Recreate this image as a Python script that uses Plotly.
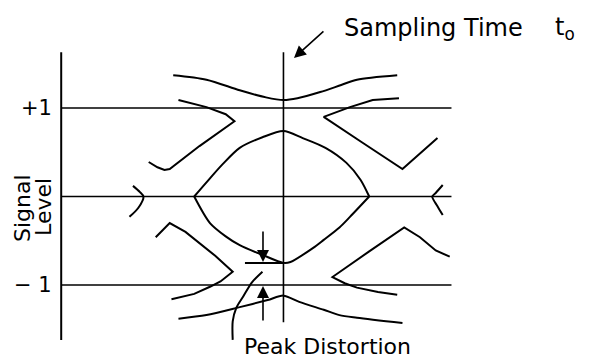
import plotly.graph_objects as go

# time in bit periods (sampling time t0 = 0), level in signal units
# outer upper trace, above +1
top_t = [-0.63, -0.44, -0.25, -0.10, 0.0, 0.08, 0.21, 0.33, 0.42, 0.65]
top_v = [1.37, 1.32, 1.20, 1.12, 1.09, 1.11, 1.18, 1.26, 1.32, 1.37]

# "<" shaped traces near +1
hi_left_t = [-0.60, -0.44, -0.33, -0.28, -0.48, -0.65, -0.68, -0.72, -0.77]
hi_left_v = [1.09, 1.01, 0.93, 0.85, 0.57, 0.31, 0.30, 0.33, 0.39]
hi_right_t = [0.66, 0.51, 0.38, 0.23, 0.45, 0.68, 0.88]
hi_right_v = [1.11, 1.09, 1.01, 0.90, 0.61, 0.31, 0.66]

# eye opening
eye_top_t = [-0.51, -0.44, -0.35, -0.25, -0.12, 0.0, 0.11, 0.24, 0.36, 0.44, 0.49]
eye_top_v = [0.0, 0.16, 0.36, 0.55, 0.67, 0.74, 0.66, 0.55, 0.38, 0.19, 0.0]
eye_bot_t = [-0.51, -0.42, -0.33, -0.25, -0.12, 0.0, 0.04, 0.17, 0.23, 0.32, 0.38, 0.49]
eye_bot_v = [0.0, -0.30, -0.45, -0.55, -0.66, -0.75, -0.74, -0.58, -0.49, -0.35, -0.23, 0.0]

# traces near -1
lo_left_t = [-0.73, -0.65, -0.56, -0.48, -0.39, -0.29, -0.36, -0.42, -0.51, -0.64]
lo_left_v = [-0.46, -0.30, -0.40, -0.53, -0.67, -0.85, -0.96, -1.02, -1.10, -1.16]
lo_right_t = [0.95, 0.87, 0.78, 0.69, 0.49, 0.28, 0.35, 0.42, 0.54, 0.65]
lo_right_v = [-0.68, -0.61, -0.46, -0.35, -0.62, -0.91, -0.98, -1.03, -1.08, -1.11]

# outer lower trace, below -1
bot_t = [-0.60, -0.44, -0.25, -0.09, 0.0, 0.09, 0.23, 0.32, 0.42, 0.68]
bot_v = [-1.38, -1.34, -1.25, -1.17, -1.12, -1.19, -1.28, -1.34, -1.37, -1.43]

# small crossings at the zero line
arc_left_t = [-0.86, -0.82, -0.80, -0.83, -0.88]
arc_left_v = [0.12, 0.05, 0.0, -0.13, -0.23]
arc_right_t = [0.91, 0.87, 0.85, 0.88, 0.91]
arc_right_v = [0.13, 0.04, 0.0, -0.11, -0.21]

# leader from the "Peak Distortion" label
lead_t = [-0.29, -0.29, -0.27, -0.23, -0.18, -0.12]
lead_v = [-1.62, -1.41, -1.26, -1.13, -0.97, -0.85]

levels = [1, 0, -1]
level_labels = ["+1", "", "\u2212 1"]
t_start, t_end = -1.27, 0.96
axis_lo, axis_hi = -1.62, 1.63
sample_lo = -1.42
worst_open = -0.75

fig = go.Figure()

for t, v, shape in [
    (top_t, top_v, "spline"),
    (hi_left_t, hi_left_v, "linear"),
    (hi_right_t, hi_right_v, "linear"),
    (eye_top_t, eye_top_v, "spline"),
    (eye_bot_t, eye_bot_v, "spline"),
    (lo_left_t, lo_left_v, "linear"),
    (lo_right_t, lo_right_v, "linear"),
    (bot_t, bot_v, "spline"),
    (arc_left_t, arc_left_v, "spline"),
    (arc_right_t, arc_right_v, "spline"),
    (lead_t, lead_v, "spline"),
]:
    fig.add_trace(go.Scatter(x=t, y=v, mode="lines",
                             line=dict(color="black", width=2, shape=shape, smoothing=0.8),
                             hoverinfo="skip"))

# reference lines
for lv in levels:
    fig.add_trace(go.Scatter(x=[t_start, t_end], y=[lv, lv], mode="lines",
                             line=dict(color="black", width=1.6), hoverinfo="skip"))
fig.add_trace(go.Scatter(x=[t_start, t_start], y=[axis_lo, axis_hi], mode="lines",
                         line=dict(color="black", width=2), hoverinfo="skip"))
fig.add_trace(go.Scatter(x=[0, 0], y=[sample_lo, axis_hi], mode="lines",
                         line=dict(color="black", width=1.6), hoverinfo="skip"))
fig.add_trace(go.Scatter(x=[-0.22, 0], y=[worst_open, worst_open], mode="lines",
                         line=dict(color="black", width=2), hoverinfo="skip"))

font = dict(family="DejaVu Sans", color="black")

for lv, lab in zip(levels, level_labels):
    if lab:
        fig.add_annotation(x=-1.314, y=lv, text=lab, showarrow=False, xanchor="right",
                           font=dict(font, size=21))

fig.add_annotation(x=-1.494, y=-0.13, text="Signal", textangle=-90, showarrow=False,
                   font=dict(font, size=22))
fig.add_annotation(x=-1.375, y=-0.12, text="Level", textangle=-90, showarrow=False,
                   font=dict(font, size=22))

fig.add_annotation(x=0.334, y=1.904, text="Sampling Time", showarrow=False, xanchor="left",
                   font=dict(font, size=24))
fig.add_annotation(x=1.54, y=1.904, text="t<sub>o</sub>", showarrow=False, xanchor="left",
                   font=dict(font, size=24))
fig.add_annotation(x=-0.237, y=-1.70, text="Peak Distortion", showarrow=False, xanchor="left",
                   font=dict(font, size=22))

# arrows
arrow = dict(showarrow=True, arrowhead=2, arrowsize=1.5, arrowwidth=1.6, arrowcolor="black",
             axref="x", ayref="y", text="", standoff=0)
fig.add_annotation(x=0.06, y=1.565, ax=0.237, ay=1.881, **arrow)
fig.add_annotation(x=-0.117, y=-0.74, ax=-0.117, ay=-0.379, **arrow)
fig.add_annotation(x=-0.117, y=-1.011, ax=-0.117, ay=-1.418, **arrow)

# the page keeps an 8px body margin, so the figure covers 584x354 of the window
fig.update_layout(
    width=584, height=354,
    margin=dict(l=0, r=0, t=0, b=0),
    paper_bgcolor="white", plot_bgcolor="white",
    showlegend=False,
    xaxis=dict(range=[-1.574, 1.763], visible=False),
    yaxis=dict(range=[-1.870, 2.130], visible=False),
)

fig.write_html("out.html")
